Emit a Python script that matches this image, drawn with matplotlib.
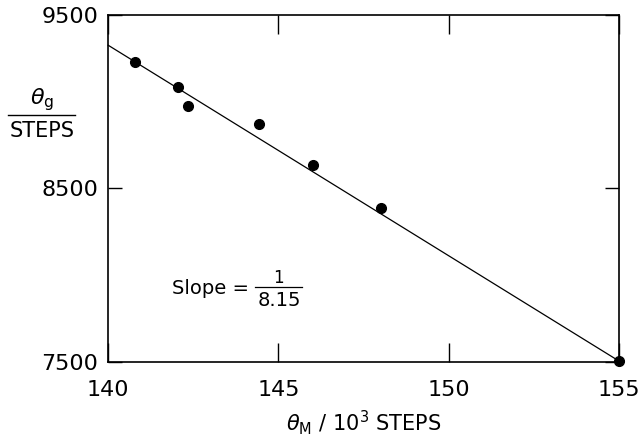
import matplotlib
matplotlib.use('Agg')
import matplotlib.pyplot as plt
from matplotlib.lines import Line2D

# measured points
theta_m = [140.8, 142.05, 142.35, 144.43, 146.02, 148.0, 155.0]
theta_g = [9229, 9085, 8976, 8872, 8635, 8388, 7505]
# fitted line, slope 1/8.15
fit_x = [140, 155]
fit_y = [9325, 7505]

xticks = [140, 145, 150, 155]
yticks = [7500, 8500, 9500]

plt.rcParams['font.family'] = ['DejaVu Sans']
plt.rcParams['mathtext.fontset'] = 'dejavusans'

fig = plt.figure(figsize=(6.4, 4.37), dpi=100)
ax = fig.add_axes([0.169, 0.172, 0.798, 0.794])

ax.plot(fit_x, fit_y, color='black', lw=0.9, clip_on=False)
ax.plot(theta_m, theta_g, 'o', color='black', ms=7, clip_on=False, zorder=3)

ax.set_xlim(140, 155)
ax.set_ylim(7500, 9500)
ax.set_xticks(xticks)
ax.set_yticks(yticks)
ax.set_xticklabels([str(v) for v in xticks], fontsize=16)
ax.set_yticklabels([str(v) for v in yticks], fontsize=16)
ax.tick_params(direction='in', length=14, width=1, top=True, right=True)
ax.tick_params(axis='x', pad=13)
ax.tick_params(axis='y', length=10, pad=7)
for s in ax.spines.values():
    s.set_linewidth(1.2)

ax.set_xlabel(r'$\theta_{\rm M}$ / 10$^3$ STEPS', fontsize=15, labelpad=6)

# y label drawn as a fraction
fig.text(42 / 640, 1 - 100 / 437, r'$\theta_{\rm g}$', fontsize=16, ha='center', va='center')
fig.add_artist(Line2D([8 / 640, 75 / 640], [1 - 115 / 437, 1 - 115 / 437], color='black', lw=1))
fig.text(42 / 640, 1 - 131 / 437, 'STEPS', fontsize=15, ha='center', va='center')

# slope annotation
fig.text(249 / 640, 1 - 288 / 437, 'Slope =', fontsize=14, ha='right', va='center')
fig.text(278 / 640, 1 - 278 / 437, '1', fontsize=12, ha='center', va='center')
fig.add_artist(Line2D([255 / 640, 302 / 640], [1 - 287 / 437, 1 - 287 / 437], color='black', lw=0.9))
fig.text(279 / 640, 1 - 300 / 437, '8.15', fontsize=14, ha='center', va='center')

fig.savefig('out.png', dpi=100)
